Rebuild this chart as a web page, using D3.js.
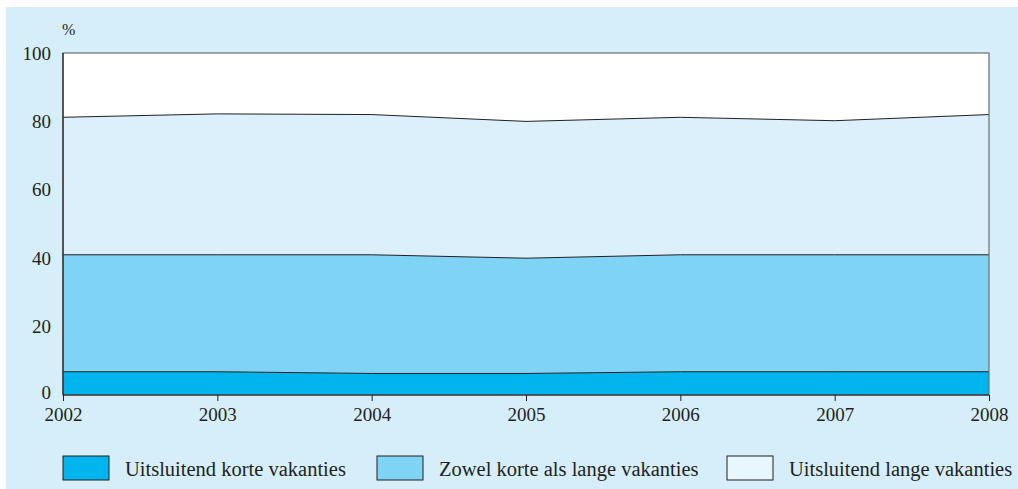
<!DOCTYPE html>
<html>
<head>
<meta charset="utf-8">
<script src="https://cdn.jsdelivr.net/npm/d3@7"></script>
<style>
  html, body { margin: 0; padding: 0; background: #ffffff; }
  svg { display: block; }
  text { font-family: "Palatino Linotype", "Book Antiqua", Palatino, "Liberation Serif", "DejaVu Serif", serif; fill: #231f20; }
</style>
</head>
<body>
<svg id="chart" width="1018" height="489"></svg>
<script>
const years = [2002, 2003, 2004, 2005, 2006, 2007, 2008];
const korte = [6.8, 6.8, 6.3, 6.3, 6.8, 6.8, 6.8];
const zowel = [34.2, 34.2, 34.7, 33.7, 34.2, 34.2, 34.2];
const lange = [40.2, 41.2, 41.0, 40.0, 40.2, 39.2, 41.0];
const yTicks = [0, 20, 40, 60, 80, 100];
const seriesNames = ["Uitsluitend korte vakanties", "Zowel korte als lange vakanties", "Uitsluitend lange vakanties"];
const seriesColors = ["#00b5ee", "#7fd3f5", "#dbf0fb"];

const svg = d3.select("#chart");
const W = 1018, H = 489;
const m = { left: 63, right: 989, top: 53, bottom: 395 };

// panel background
svg.append("rect").attr("x", 6).attr("y", 7).attr("width", W - 6).attr("height", H - 7).attr("fill", "#d5eefa");

const x = d3.scaleLinear().domain([2002, 2008]).range([m.left, m.right]);
const y = d3.scaleLinear().domain([0, 100]).range([m.bottom, m.top]);

// plot background
svg.append("rect").attr("x", m.left).attr("y", m.top).attr("width", m.right - m.left).attr("height", m.bottom - m.top).attr("fill", "#ffffff");

const rows = years.map((yr, i) => ({ year: yr, korte: korte[i], zowel: zowel[i], lange: lange[i] }));
const stack = d3.stack().keys(["korte", "zowel", "lange"]);
const layers = stack(rows);

const area = d3.area().x(d => x(d.data.year)).y0(d => y(d[0])).y1(d => y(d[1]));
const line = d3.line().x(d => x(d.data.year)).y(d => y(d[1]));

svg.append("g").selectAll("path").data(layers).join("path")
  .attr("d", area).attr("fill", (d, i) => seriesColors[i]);

svg.append("g").selectAll("path").data(layers).join("path")
  .attr("d", line).attr("fill", "none").attr("stroke", "#231f20").attr("stroke-width", 1);

// frame
svg.append("rect").attr("x", m.left).attr("y", m.top).attr("width", m.right - m.left).attr("height", m.bottom - m.top)
  .attr("fill", "none").attr("stroke", "#6d6e71").attr("stroke-width", 1.2);
svg.append("line").attr("x1", m.left).attr("x2", m.left).attr("y1", m.top).attr("y2", m.bottom).attr("stroke", "#231f20").attr("stroke-width", 1.2);
svg.append("line").attr("x1", m.left).attr("x2", m.right).attr("y1", m.bottom).attr("y2", m.bottom).attr("stroke", "#231f20").attr("stroke-width", 1.2);

// x axis
const xAxis = d3.axisBottom(x).tickValues(years).tickFormat(d3.format("d")).tickSize(6).tickSizeOuter(0);
const gx = svg.append("g").attr("transform", `translate(0,${m.bottom})`).call(xAxis);
gx.select(".domain").remove();
gx.selectAll(".tick line").attr("stroke", "#231f20");
gx.selectAll(".tick text").attr("font-size", 19).attr("font-family", null).attr("y", 13).attr("dy", "0.71em");

// y axis
const yAxis = d3.axisLeft(y).tickValues(yTicks).tickSize(0).tickPadding(12);
const gy = svg.append("g").attr("transform", `translate(${m.left},0)`).call(yAxis);
gy.select(".domain").remove();
gy.selectAll(".tick text").attr("font-size", 19).attr("font-family", null);
gy.selectAll(".tick").filter(d => d === 0).select("text").attr("dy", "0.2em");

svg.append("text").attr("x", 62).attr("y", 35).attr("font-size", 16).text("%");

// legend
const legX = [63, 377, 727];
const lg = svg.append("g");
seriesNames.forEach((name, i) => {
  lg.append("rect").attr("x", legX[i]).attr("y", 456).attr("width", 46).attr("height", 24)
    .attr("fill", i === 2 ? "#e8f6fd" : seriesColors[i]).attr("stroke", "#231f20").attr("stroke-width", 1);
  lg.append("text").attr("x", legX[i] + 62).attr("y", 476).attr("font-size", 20.5).text(name);
});
</script>
</body>
</html>
